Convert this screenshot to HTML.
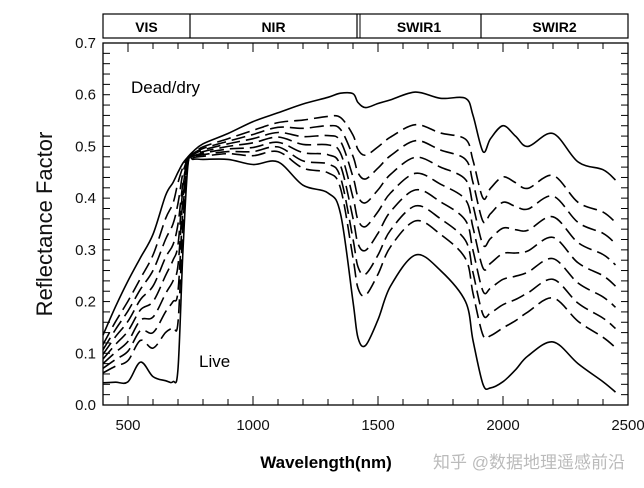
<!DOCTYPE html>
<html><head><meta charset="utf-8"><style>
body{margin:0;background:#fff;width:644px;height:488px;overflow:hidden}
svg{display:block;font-family:"Liberation Sans",Arial,sans-serif}
</style></head><body>
<svg id="chart" width="644" height="488" viewBox="0 0 644 488"></svg>
<script>
const wavelengths=[400,450,500,550,600,650,680,700,720,740,760,800,900,1000,1100,1200,1300,1350,1400,1420,1450,1500,1550,1650,1750,1850,1880,1920,1950,2000,2050,2100,2200,2300,2400,2450];
const deadDry=[.135,.19,.24,.285,.33,.405,.43,.45,.468,.48,.49,.505,.525,.548,.565,.582,.595,.603,.602,.585,.575,.583,.59,.605,.593,.593,.56,.49,.515,.54,.52,.50,.525,.47,.455,.435];
const mix1=[.117,.161,.201,.245,.29,.36,.39,.43,.46,.477,.487,.499,.515,.531,.546,.551,.558,.556,.522,.494,.483,.499,.518,.542,.526,.514,.473,.400,.419,.441,.430,.419,.444,.392,.373,.353];
const mix2=[.107,.146,.182,.224,.26,.32,.35,.39,.45,.476,.486,.496,.510,.523,.537,.535,.540,.533,.481,.449,.437,.458,.482,.511,.493,.475,.430,.355,.370,.392,.384,.379,.404,.353,.332,.312];
const mix3=[.098,.132,.162,.204,.23,.285,.31,.35,.43,.474,.484,.493,.505,.515,.527,.519,.521,.510,.441,.403,.391,.416,.446,.479,.460,.436,.386,.310,.322,.342,.339,.338,.364,.314,.291,.271];
const mix4=[.089,.117,.143,.184,.20,.25,.28,.31,.42,.473,.483,.490,.500,.507,.518,.504,.503,.487,.401,.358,.345,.374,.410,.448,.427,.397,.343,.265,.274,.293,.294,.298,.324,.275,.250,.230];
const mix5=[.080,.102,.123,.164,.17,.215,.24,.27,.40,.471,.481,.487,.495,.498,.508,.488,.484,.463,.361,.312,.299,.332,.374,.416,.393,.357,.299,.220,.226,.243,.249,.257,.283,.236,.209,.189];
const mix6=[.071,.088,.104,.144,.14,.18,.20,.22,.38,.470,.480,.484,.490,.490,.499,.472,.466,.440,.321,.267,.253,.290,.338,.385,.360,.318,.256,.175,.178,.194,.204,.217,.243,.197,.168,.148];
const mix7=[.062,.075,.086,.125,.11,.14,.15,.16,.35,.468,.478,.481,.486,.482,.490,.458,.449,.419,.284,.226,.212,.253,.306,.356,.330,.283,.216,.135,.134,.149,.163,.180,.207,.162,.131,.111];
const live=[.043,.044,.045,.083,.055,.047,.045,.07,.30,.465,.475,.475,.475,.465,.47,.425,.41,.37,.20,.13,.115,.165,.23,.29,.26,.20,.125,.04,.033,.045,.068,.095,.122,.08,.045,.025];
const yTicks=[0,0.1,0.2,0.3,0.4,0.5,0.6,0.7];
const yTickLabels=["0.0","0.1","0.2","0.3","0.4","0.5","0.6","0.7"];
const xTicks=[500,1000,1500,2000,2500];
const bands=["VIS","NIR","SWIR1","SWIR2"];
const bandEdges=[400,748,1416,1912,2500];

const svg=document.getElementById('chart');
const NS='http://www.w3.org/2000/svg';
const L=103,R=628,T=43,B=405;
function xs(w){return L+(w-400)/(2500-400)*(R-L);}
function ys(v){return B-v/0.7*(B-T);}
function mk(tag,attrs,parent){const e=document.createElementNS(NS,tag);for(const k in attrs)e.setAttribute(k,attrs[k]);(parent||svg).appendChild(e);return e;}

const hdr=mk('g',{});


mk('rect',{x:L,y:14,width:R-L,height:24,fill:'none',stroke:'#000','stroke-width':1.2},hdr);
for(let i=0;i<bands.length;i++){
  const x0=xs(bandEdges[i]),x1=xs(bandEdges[i+1]);
  if(i>0){mk('line',{x1:x0,x2:x0,y1:14,y2:38,stroke:'#000','stroke-width':1.2},hdr);
    if(bands[i]==='SWIR1'){mk('line',{x1:x0+3,x2:x0+3,y1:14,y2:38,stroke:'#000','stroke-width':1},hdr);}}
  const t=mk('text',{x:(x0+x1)/2,y:32,'text-anchor':'middle','font-size':14,'font-weight':'bold'},hdr);
  t.textContent=bands[i];
  
  
}

const frame=mk('rect',{x:L,y:T,width:R-L,height:B-T,fill:'none',stroke:'#000','stroke-width':1.3});



const tk=mk('g',{stroke:'#000','stroke-width':1});


for(let w=500;w<2500;w+=100){
  const x=xs(w),len=(w%500===0)?9:6;
  mk('line',{x1:x,x2:x,y1:B,y2:B-len},tk);
  mk('line',{x1:x,x2:x,y1:T,y2:T+len},tk);
}
for(let i=1;i<35;i++){
  const v=i*0.02,y=ys(v),len=7;
  mk('line',{x1:L,x2:L+len,y1:y,y2:y},tk);
  mk('line',{x1:R,x2:R-len,y1:y,y2:y},tk);
}
yTicks.forEach((v,i)=>{
  const t=mk('text',{x:L-7,y:ys(v)+5,'text-anchor':'end','font-size':15,fill:'#111'});
  t.textContent=yTickLabels[i];
  
  
});
xTicks.forEach(w=>{
  const t=mk('text',{x:xs(w),y:430,'text-anchor':'middle','font-size':15,fill:'#111'});
  t.textContent=String(w);
  
  
});

function pathFor(vals){
  const p=wavelengths.map((w,i)=>[xs(w),ys(vals[i])]);
  let d='M'+p[0][0].toFixed(1)+','+p[0][1].toFixed(1);
  for(let i=0;i<p.length-1;i++){
    const p0=p[i-1]||p[i],p1=p[i],p2=p[i+1],p3=p[i+2]||p2;
    const c1=[p1[0]+(p2[0]-p0[0])/6,p1[1]+(p2[1]-p0[1])/6];
    const c2=[p2[0]-(p3[0]-p1[0])/6,p2[1]-(p3[1]-p1[1])/6];
    d+=' C'+c1[0].toFixed(1)+','+c1[1].toFixed(1)+' '+c2[0].toFixed(1)+','+c2[1].toFixed(1)+' '+p2[0].toFixed(1)+','+p2[1].toFixed(1);
  }
  return d;
}
const series=[deadDry,mix1,mix2,mix3,mix4,mix5,mix6,mix7,live];
const names=['dead-dry-curve','mix-curve-1','mix-curve-2','mix-curve-3','mix-curve-4','mix-curve-5','mix-curve-6','mix-curve-7','live-curve'];
series.forEach((s,i)=>{
  const solid=(i===0||i===series.length-1);
  const e=mk('path',{d:pathFor(s),fill:'none',stroke:'#000','stroke-width':1.6,'stroke-dasharray':solid?'none':'14 6','stroke-linejoin':'round'});
  
  
});

const a1=mk('text',{x:131,y:93,'font-size':17,fill:'#000'});a1.textContent='Dead/dry';


const a2=mk('text',{x:199,y:367,'font-size':17,fill:'#000'});a2.textContent='Live';



const yt=mk('text',{x:52,y:224,'text-anchor':'middle','font-size':22,fill:'#111',transform:'rotate(-90 52 224)'});
yt.textContent='Reflectance Factor';


const xt=mk('text',{x:326,y:468,'text-anchor':'middle','font-size':17,'font-weight':'bold',fill:'#000'});
xt.textContent='Wavelength(nm)';


const wm=mk('text',{x:625,y:468,'text-anchor':'end','font-size':17,fill:'#bbb','font-family':'"Liberation Sans","Noto Sans CJK SC",sans-serif'});
wm.textContent='知乎 @数据地理遥感前沿';


</script>
</body></html>
